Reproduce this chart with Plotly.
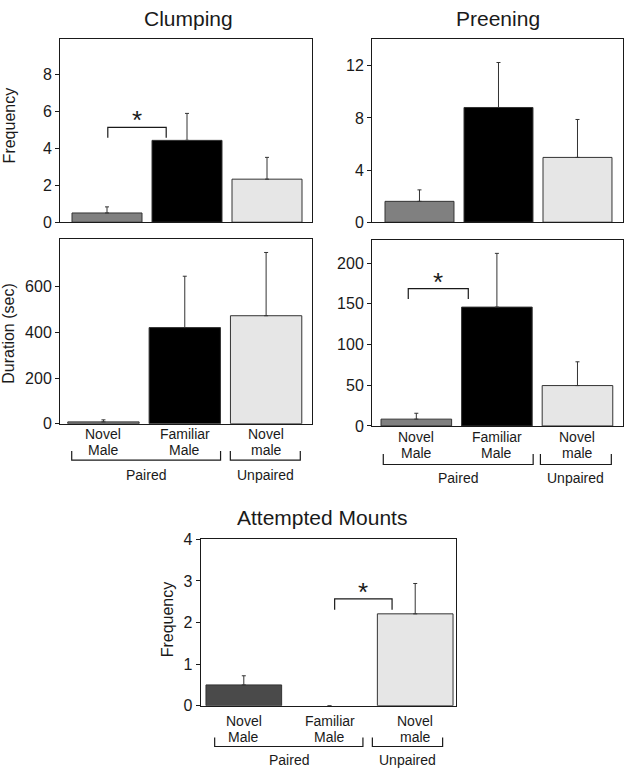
import plotly.graph_objects as go

# ---------------- data ----------------
categories = ["Novel<br>Male", "Familiar<br>Male", "Novel<br>male"]
groups = ["Paired", "Unpaired"]

clump_freq = [0.5, 4.43, 2.33]
clump_freq_err = [0.33, 1.46, 1.18]

preen_freq = [1.6, 8.8, 4.97]
preen_freq_err = [0.88, 3.45, 2.91]

clump_dur = [8, 421, 473]
clump_dur_err = [9, 225, 277]

preen_dur = [8.4, 146, 49.6]
preen_dur_err = [7.2, 66, 29.2]

mount_freq = [0.5, 0, 2.21]
mount_freq_err = [0.22, 0, 0.73]

W, H = 625, 778
FONT = "Liberation Sans, Arial, sans-serif"
INK = "#1a1a1a"


def px(x):
    return x / W


def py(y):
    return 1 - y / H


fig = go.Figure()

panels = [
    dict(name="1", vals=clump_freq, err=clump_freq_err, xd=(60, 312), yd=(32, 219),
         xr=[-0.5875, 2.5625], yr=[0, 9.9], ticks=[0, 2, 4, 6, 8], width=0.875,
         colors=["#808080", "#000000", "#e6e6e6"], labels=None),
    dict(name="2", vals=preen_freq, err=preen_freq_err, xd=(372, 623), yd=(32, 219),
         xr=[-0.601, 2.576], yr=[0, 14.03], ticks=[0, 4, 8, 12], width=0.873,
         colors=["#808080", "#000000", "#e6e6e6"], labels=None),
    dict(name="3", vals=clump_dur, err=clump_dur_err, xd=(60, 312), yd=(235.7, 425),
         xr=[-0.534, 2.564], yr=[0, 811], ticks=[0, 200, 400, 600], width=0.877,
         colors=["#808080", "#000000", "#e6e6e6"],
         labels=dict(mid=444, br=462.3, leg=453, grp=477,
                     spans=[(-0.39, 1.44), (1.56, 2.42)])),
    dict(name="4", vals=preen_dur, err=preen_dur_err, xd=(372, 623), yd=(236.7, 427.3),
         xr=[-0.55, 2.565], yr=[0, 229], ticks=[0, 50, 100, 150, 200], width=0.876,
         colors=["#808080", "#000000", "#e6e6e6"],
         labels=dict(mid=447, br=466.7, leg=456, grp=480,
                     spans=[(-0.41, 1.45), (1.54, 2.42)])),
    dict(name="5", vals=mount_freq, err=mount_freq_err, xd=(200.7, 456), yd=(543.3, 713.3),
         xr=[-0.503, 2.476], yr=[0, 4], ticks=[0, 1, 2, 3, 4], width=0.883,
         colors=["#4a4a4a", "#000000", "#e6e6e6"],
         labels=dict(mid=737, br=755, leg=745.7, grp=769.3,
                     spans=[(-0.34, 1.39), (1.50, 2.32)])),
]

layout = dict(
    width=W, height=H, margin=dict(l=0, r=0, t=0, b=0),
    paper_bgcolor="white", plot_bgcolor="white", showlegend=False,
    font=dict(family=FONT, color=INK, size=15),
)
annotations = []
shapes = []

for p in panels:
    n = p["name"]
    xa = "x" if n == "1" else "x" + n
    ya = "y" if n == "1" else "y" + n
    xkey = "xaxis" if n == "1" else "xaxis" + n
    ykey = "yaxis" if n == "1" else "yaxis" + n
    fig.add_trace(go.Bar(
        x=[0, 1, 2], y=p["vals"], width=p["width"],
        marker=dict(color=p["colors"],
                    line=dict(color="#333333",
                              width=[1 if v > 0 else 0 for v in p["vals"]])),
        error_y=dict(type="data", symmetric=False, array=p["err"],
                     arrayminus=[0, 0, 0], color="#333333", thickness=1, width=2),
        xaxis=xa, yaxis=ya,
    ))
    layout[xkey] = dict(
        domain=[px(p["xd"][0]), px(p["xd"][1])], range=p["xr"], anchor=ya,
        showline=True, mirror=True, linecolor=INK, linewidth=1,
        showgrid=False, zeroline=False, ticks="", showticklabels=False,
        fixedrange=True,
    )
    layout[ykey] = dict(
        domain=[py(p["yd"][1]), py(p["yd"][0])], range=p["yr"], anchor=xa,
        showline=True, mirror=True, linecolor=INK, linewidth=1,
        showgrid=False, zeroline=False, ticks="outside", ticklen=4,
        tickcolor=INK, tickmode="array", tickvals=p["ticks"],
        tickfont=dict(size=16, family=FONT, color=INK),
    )
    lab = p["labels"]
    if lab:
        for i, c in enumerate(categories):
            for k, line in enumerate(c.split("<br>")):
                annotations.append(dict(
                    x=i, y=py(lab["mid"] - 8 + 16 * k), xref=xa, yref="paper",
                    text=line, showarrow=False, xanchor="center", yanchor="middle",
                    font=dict(size=14, family=FONT, color=INK)))
        for (x0, x1), g in zip(lab["spans"], groups):
            shapes.append(dict(
                type="path", xref=xa, yref="paper",
                path=f"M {x0},{py(lab['leg'])} L {x0},{py(lab['br'])} "
                     f"L {x1},{py(lab['br'])} L {x1},{py(lab['leg'])}",
                line=dict(color=INK, width=1.2)))
            annotations.append(dict(
                x=(x0 + x1) / 2, y=py(lab["grp"]), xref=xa, yref="paper", text=g,
                showarrow=False, xanchor="center", yanchor="middle",
                font=dict(size=14, family=FONT, color=INK)))

# significance brackets
sig = [
    ("x", "y", 0.01, 0.74, 4.57, 5.13),
    ("x4", "y4", -0.1, 0.645, 156, 168.7),
    ("x5", "y5", 1.06, 1.73, 2.31, 2.57),
]
for xa, ya, x0, x1, leg, top in sig:
    shapes.append(dict(
        type="path", xref=xa, yref=ya,
        path=f"M {x0},{leg} L {x0},{top} L {x1},{top} L {x1},{leg}",
        line=dict(color=INK, width=1.2)))
    annotations.append(dict(
        x=(x0 + x1) / 2, y=top, xref=xa, yref=ya, text="*", showarrow=False,
        xanchor="center", yanchor="bottom", yshift=-10,
        font=dict(size=26, family=FONT, color=INK)))

# titles
for txt, x, y in (("Clumping", 188, 11), ("Preening", 498, 11),
                  ("Attempted Mounts", 322, 521)):
    annotations.append(dict(x=px(x), y=py(y), xref="paper", yref="paper", text=txt,
                            showarrow=False, xanchor="center", yanchor="middle",
                            font=dict(size=21, family=FONT, color=INK)))
for txt, x, y in (("Frequency", 9, 120), ("Duration (sec)", 9, 333),
                  ("Frequency", 167, 625)):
    annotations.append(dict(x=px(x), y=py(y), xref="paper", yref="paper", text=txt,
                            showarrow=False, xanchor="center", yanchor="middle",
                            textangle=-90,
                            font=dict(size=16, family=FONT, color=INK)))

layout["annotations"] = annotations
layout["shapes"] = shapes
fig.update_layout(**layout)
fig.write_html("out.html",
               config={"displayModeBar": False},
               post_script="document.body.style.margin='0';"
                           "document.body.style.overflow='hidden';")
